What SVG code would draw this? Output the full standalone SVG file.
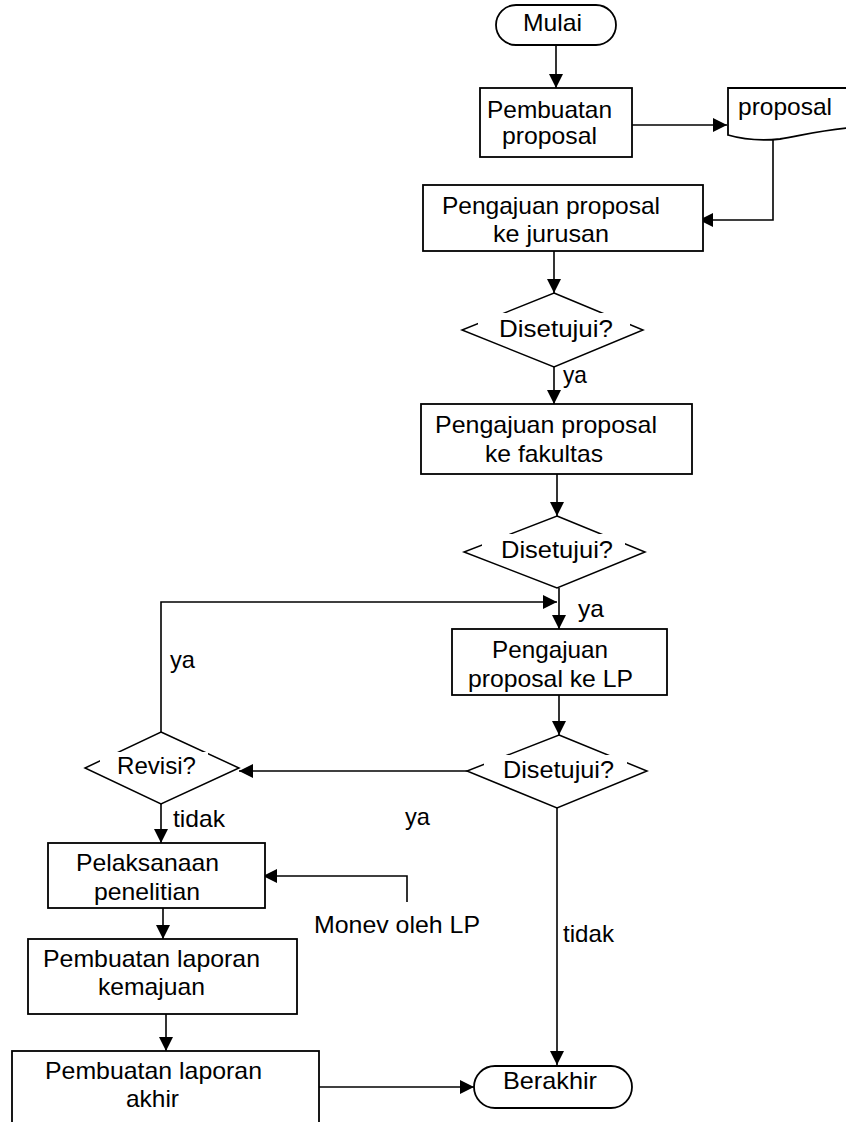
<svg xmlns="http://www.w3.org/2000/svg" width="846" height="1122" viewBox="0 0 846 1122">
<style>
  .box{fill:#fff;stroke:#000;stroke-width:1.8}
  .dia{fill:#fff;stroke:#000;stroke-width:1.5}
  .mask{fill:#fff;stroke:none}
  .t{font-family:"Liberation Sans",Arial,sans-serif;font-size:24px;fill:#000}
  .c{fill:none;stroke:#000;stroke-width:1.6}
</style>
<defs>
  <marker id="arr" markerUnits="userSpaceOnUse" markerWidth="15" markerHeight="15" refX="14" refY="7" orient="auto">
    <path d="M0,0 L14,7 L0,14 z" fill="#000"/>
  </marker>
</defs>
<rect width="846" height="1122" fill="#fff"/>

<g id="connectors">
  <path class="c" d="M556,45 V88" marker-end="url(#arr)"/>
  <path class="c" d="M631,125 H727" marker-end="url(#arr)"/>
  <path class="c" d="M773,138 V220 H699" marker-end="url(#arr)"/>
  <path class="c" d="M554,251 V293" marker-end="url(#arr)"/>
  <path class="c" d="M554,367 V404" marker-end="url(#arr)"/>
  <path class="c" d="M557,474 V516" marker-end="url(#arr)"/>
  <path class="c" d="M559,588 V629" marker-end="url(#arr)"/>
  <path class="c" d="M161,732 V602 H557" marker-end="url(#arr)"/>
  <path class="c" d="M559,695 V735" marker-end="url(#arr)"/>
  <path class="c" d="M467,771 H239" marker-end="url(#arr)"/>
  <path class="c" d="M161,804 V843" marker-end="url(#arr)"/>
  <path class="c" d="M407,902 V876 H263" marker-end="url(#arr)"/>
  <path class="c" d="M163,908 V939" marker-end="url(#arr)"/>
  <path class="c" d="M166,1014 V1051" marker-end="url(#arr)"/>
  <path class="c" d="M319,1087 H474" marker-end="url(#arr)"/>
  <path class="c" d="M557,808 V1065" marker-end="url(#arr)"/>
</g>

<g id="mulai">
  <rect class="box" x="496" y="5" width="120" height="40" rx="20"/>
  <text class="t" x="523" y="31" textLength="59" lengthAdjust="spacingAndGlyphs">Mulai</text>
</g>

<g id="pembuatan-proposal">
  <rect class="box" x="480" y="88" width="152" height="69"/>
  <text class="t" x="487" y="118" textLength="125" lengthAdjust="spacingAndGlyphs">Pembuatan</text>
  <text class="t" x="502" y="144" textLength="95" lengthAdjust="spacingAndGlyphs">proposal</text>
</g>

<g id="dokumen-proposal">
  <path class="box" d="M860,88 H728 V135 C745,140 760,141 780,139 C800,136 825,129 860,127"/>
  <text class="t" x="738" y="115" textLength="94" lengthAdjust="spacingAndGlyphs">proposal</text>
</g>

<g id="pengajuan-jurusan">
  <rect class="box" x="423" y="185" width="280" height="66"/>
  <text class="t" x="442" y="214" textLength="218" lengthAdjust="spacingAndGlyphs">Pengajuan proposal</text>
  <text class="t" x="493" y="242" textLength="116" lengthAdjust="spacingAndGlyphs">ke jurusan</text>
</g>

<g id="disetujui-1">
  <polygon class="dia" points="554,293 643,330 554,367 462,330"/>
  <rect class="mask" x="478" y="313" width="152" height="21"/>
  <text class="t" x="499" y="337" textLength="114" lengthAdjust="spacingAndGlyphs">Disetujui?</text>
  <text class="t" x="563" y="383" textLength="24" lengthAdjust="spacingAndGlyphs">ya</text>
</g>

<g id="pengajuan-fakultas">
  <rect class="box" x="421" y="404" width="271" height="70"/>
  <text class="t" x="435" y="433" textLength="222" lengthAdjust="spacingAndGlyphs">Pengajuan proposal</text>
  <text class="t" x="485" y="462" textLength="118" lengthAdjust="spacingAndGlyphs">ke fakultas</text>
</g>

<g id="disetujui-2">
  <polygon class="dia" points="557,516 645,552 557,588 464,552"/>
  <rect class="mask" x="482" y="534" width="143" height="22"/>
  <text class="t" x="501" y="558" textLength="112" lengthAdjust="spacingAndGlyphs">Disetujui?</text>
  <text class="t" x="578" y="617" textLength="26" lengthAdjust="spacingAndGlyphs">ya</text>
</g>

<g id="pengajuan-lp">
  <rect class="box" x="452" y="629" width="215" height="66"/>
  <text class="t" x="492" y="658" textLength="116" lengthAdjust="spacingAndGlyphs">Pengajuan</text>
  <text class="t" x="468" y="687" textLength="165" lengthAdjust="spacingAndGlyphs">proposal ke LP</text>
</g>

<g id="disetujui-3">
  <polygon class="dia" points="559,735 647,771 557,808 467,771"/>
  <rect class="mask" x="484" y="755" width="143" height="22"/>
  <text class="t" x="503" y="778" textLength="111" lengthAdjust="spacingAndGlyphs">Disetujui?</text>
  <text class="t" x="405" y="825" textLength="25" lengthAdjust="spacingAndGlyphs">ya</text>
  <text class="t" x="563" y="942" textLength="51" lengthAdjust="spacingAndGlyphs">tidak</text>
</g>

<g id="revisi">
  <polygon class="dia" points="161,732 239,768 161,804 85,768"/>
  <rect class="mask" x="100" y="752" width="108" height="21"/>
  <text class="t" x="117" y="774" textLength="79" lengthAdjust="spacingAndGlyphs">Revisi?</text>
  <text class="t" x="170" y="668" textLength="25" lengthAdjust="spacingAndGlyphs">ya</text>
  <text class="t" x="173" y="827" textLength="52" lengthAdjust="spacingAndGlyphs">tidak</text>
</g>

<g id="pelaksanaan">
  <rect class="box" x="48" y="843" width="217" height="65"/>
  <text class="t" x="76" y="871" textLength="143" lengthAdjust="spacingAndGlyphs">Pelaksanaan</text>
  <text class="t" x="94" y="900" textLength="106" lengthAdjust="spacingAndGlyphs">penelitian</text>
</g>

<g id="monev">
  <text class="t" x="314" y="933" textLength="166" lengthAdjust="spacingAndGlyphs">Monev oleh LP</text>
</g>

<g id="laporan-kemajuan">
  <rect class="box" x="28" y="939" width="269" height="75"/>
  <text class="t" x="43" y="967" textLength="217" lengthAdjust="spacingAndGlyphs">Pembuatan laporan</text>
  <text class="t" x="98" y="995" textLength="107" lengthAdjust="spacingAndGlyphs">kemajuan</text>
</g>

<g id="laporan-akhir">
  <rect class="box" x="12" y="1051" width="307" height="90"/>
  <text class="t" x="45" y="1079" textLength="217" lengthAdjust="spacingAndGlyphs">Pembuatan laporan</text>
  <text class="t" x="126" y="1107" textLength="53" lengthAdjust="spacingAndGlyphs">akhir</text>
</g>

<g id="berakhir">
  <rect class="box" x="474" y="1066" width="158" height="42" rx="21"/>
  <text class="t" x="503" y="1089" textLength="94" lengthAdjust="spacingAndGlyphs">Berakhir</text>
</g>
</svg>
